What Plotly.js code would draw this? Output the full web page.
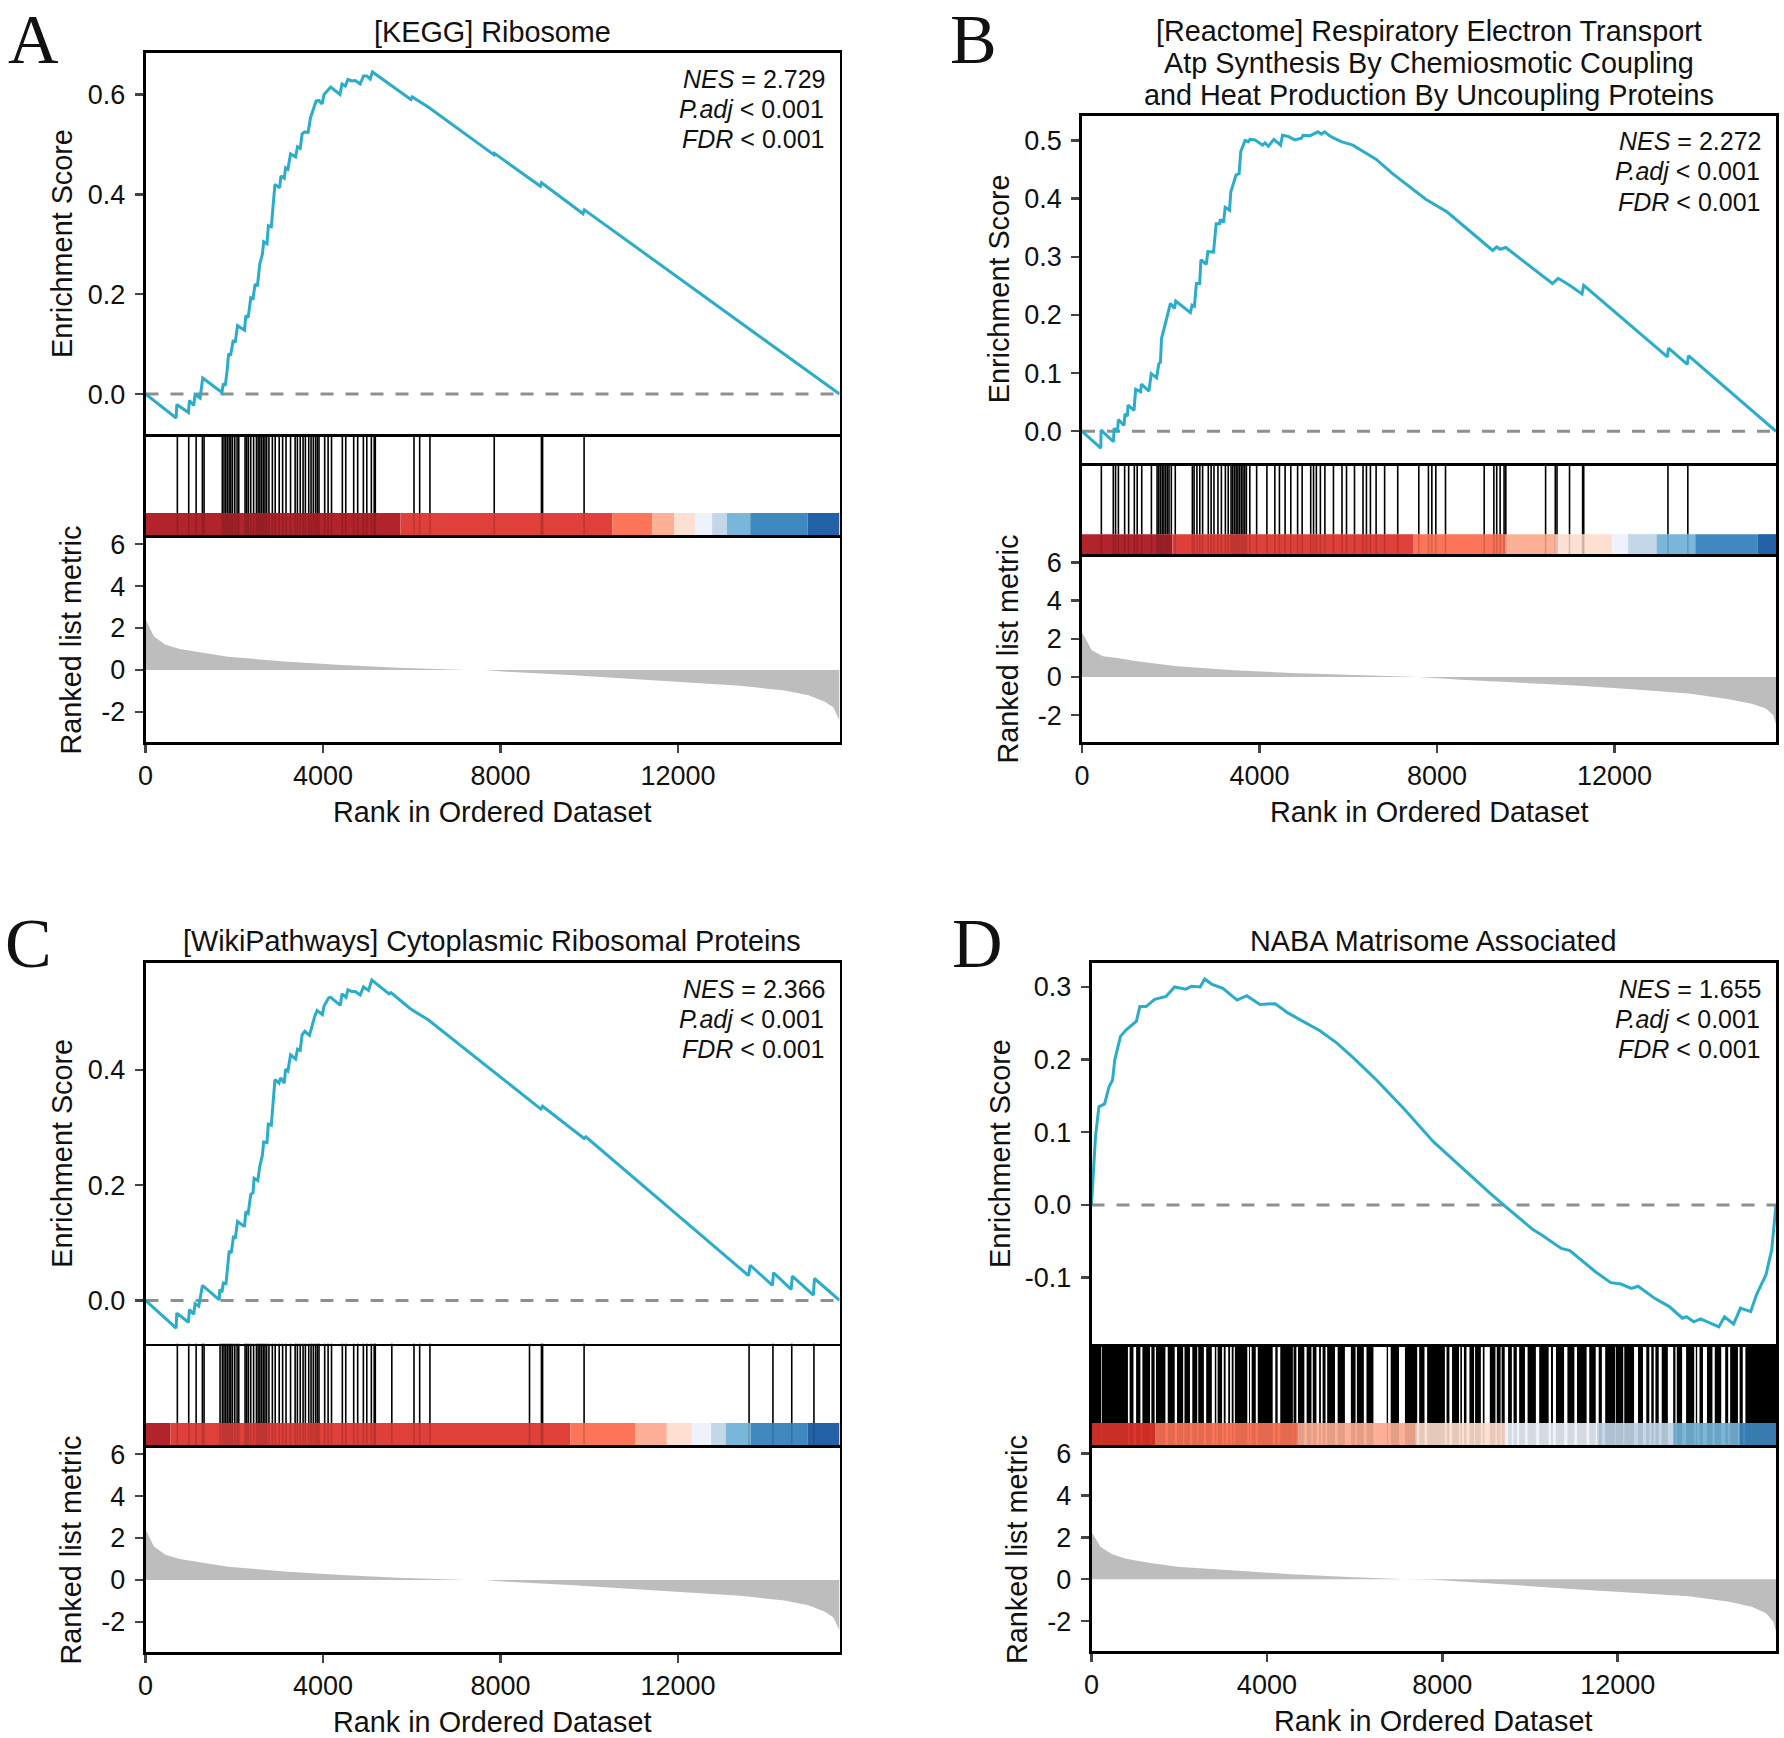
<!DOCTYPE html>
<html>
<head>
<meta charset="utf-8">
<script src="https://cdn.plot.ly/plotly-3.0.1.min.js"></script>
<style>body{margin:0;background:#fff}</style>
</head>
<body>
<div id="chart" style="width:1784px;height:1738px"></div>
<script>
// running enrichment score
var esRankA = [0,690,705,967,990,1087,1117,1230,1290,1723,1753,1798,1843,1873,1917,1977,2022,2074,2231,2261,2313,2373,2424,2469,2522,2574,2634,2664,2738,2768,2835,2917,3022,3052,3127,3157,3209,3269,3381,3426,3486,3530,3590,3665,3717,3844,3904,3979,4024,4129,4174,4383,4428,4503,4562,4652,4727,4838,4913,4988,5063,5114,5981,6011,6131,6370,7855,7865,8900,8925,9860,9890,15640];
var esValA = [0,-.048,-.021,-.037,-.013,-.023,-.001,-.008,.032,.003,.021,.017,.05,.081,.077,.108,.103,.137,.128,.157,.153,.193,.191,.22,.216,.26,.28,.305,.301,.337,.335,.42,.413,.437,.432,.453,.45,.481,.475,.495,.492,.521,.525,.524,.553,.587,.588,.581,.6,.612,.615,.6,.621,.617,.63,.627,.628,.621,.637,.637,.631,.645,.59,.595,.588,.575,.479,.482,.416,.423,.361,.369,0];

var esRankB = [0,424,430,708,723,798,820,947,968,1023,1037,1172,1209,1322,1337,1509,1560,1680,1732,1769,1791,1858,1903,1993,2085,2112,2442,2480,2533,2578,2652,2680,2800,2837,2964,3024,3100,3115,3190,3227,3324,3354,3473,3540,3578,3675,3750,3787,3899,4071,4124,4198,4325,4474,4519,4646,4795,4945,4982,5131,5318,5393,5468,5580,5655,5842,6103,6327,6625,6999,7746,8230,9000,9256,9346,9423,9551,10410,10602,10731,10987,11269,11307,13192,13218,13641,13666,15640];
var esValB = [0,-.029,.002,-.018,.005,-.001,.02,.01,.03,.026,.045,.036,.072,.068,.081,.069,.099,.092,.116,.119,.159,.18,.197,.22,.211,.224,.204,.217,.215,.254,.254,.295,.287,.309,.308,.357,.357,.364,.359,.385,.38,.412,.441,.443,.481,.5,.498,.502,.501,.492,.496,.49,.502,.492,.509,.507,.501,.504,.509,.508,.515,.511,.515,.508,.505,.498,.492,.482,.468,.443,.399,.377,.328,.311,.317,.313,.316,.266,.254,.263,.251,.236,.251,.128,.143,.115,.13,0];

var esRankC = [0,690,705,967,990,1087,1117,1200,1230,1283,1664,1672,1723,1753,1813,1850,1887,1932,1984,2022,2074,2231,2261,2313,2373,2424,2447,2530,2574,2634,2664,2738,2768,2835,2917,3007,3045,3127,3157,3209,3269,3381,3426,3486,3530,3590,3695,3814,3866,3986,4024,4129,4174,4391,4428,4518,4562,4652,4727,4838,4913,5026,5100,5489,5530,5955,6030,6370,8653,8910,8948,9885,9923,13589,13628,14128,14153,14551,14576,15051,15076,15640];
var esValC = [0,-.048,-.022,-.038,-.016,-.024,-.006,-.01,.003,.026,.001,.019,.014,.03,.029,.058,.086,.082,.112,.107,.137,.128,.154,.151,.184,.187,.212,.208,.232,.252,.275,.274,.306,.304,.383,.377,.386,.377,.401,.398,.426,.419,.436,.434,.461,.467,.46,.493,.503,.496,.511,.525,.526,.512,.532,.526,.539,.536,.536,.53,.544,.538,.556,.532,.534,.507,.503,.487,.348,.332,.337,.281,.284,.043,.061,.026,.048,.019,.042,.009,.038,0];

var esRankD = [0,39,91,169,298,402,480,532,661,791,1025,1102,1245,1440,1699,1894,2023,2153,2283,2477,2581,2737,2996,3320,3541,3839,4189,4488,4812,5201,5590,5979,6498,7146,7795,8443,9092,9416,9740,10065,10259,10713,10908,11491,11841,12075,12308,12464,12853,13177,13476,13567,13735,13890,14046,14306,14436,14643,14799,15032,15162,15382,15512,15610];
var esValD = [0,.039,.094,.135,.139,.163,.172,.2,.232,.241,.253,.273,.273,.283,.287,.3,.298,.297,.301,.3,.311,.304,.298,.282,.288,.276,.277,.264,.253,.24,.223,.202,.172,.131,.087,.051,.016,-.001,-.018,-.034,-.041,-.06,-.063,-.092,-.107,-.109,-.115,-.112,-.129,-.14,-.156,-.154,-.161,-.157,-.161,-.168,-.154,-.164,-.142,-.147,-.124,-.096,-.062,0];

// gene hit positions
var hitsA = [718,974,1141,1282,1320,1731,1769,1808,1846,1885,1923,1961,2013,2064,2102,2244,2282,2320,2372,2436,2500,2538,2577,2615,2654,2692,2731,2782,2859,2923,3013,3090,3167,3269,3372,3423,3487,3551,3603,3679,3731,3782,3833,3872,3910,4038,4115,4192,4436,4513,4692,4782,4910,4987,5090,5154,5179,6051,6179,6410,7859,8923,8949,9884];
var hitsB = [436,705,756,820,961,1051,1179,1244,1346,1564,1692,1731,1769,1808,1846,1885,1923,1961,2013,2102,2487,2526,2590,2654,2718,2846,2910,2974,3064,3141,3231,3295,3359,3397,3436,3474,3513,3551,3590,3628,3667,3705,3782,3936,4167,4346,4449,4577,4705,4859,4961,5154,5218,5282,5372,5474,5667,5859,5961,6141,6333,6410,6500,6628,6820,7115,7590,7807,7884,7974,8192,9064,9282,9346,9423,9512,9551,10448,10666,10705,10987,11282,11307,13205,13653];
var hitsC = [718,974,1141,1282,1320,1680,1731,1769,1808,1846,1885,1923,1961,2013,2064,2102,2244,2282,2320,2372,2436,2500,2538,2577,2615,2654,2692,2731,2782,2859,2923,3013,3090,3167,3269,3372,3423,3487,3551,3603,3679,3731,3782,3833,3872,3910,4038,4115,4192,4436,4513,4692,4782,4910,4987,5090,5154,5179,5551,6051,6179,6410,8654,8923,8949,9884,13602,14140,14564,15064];
// panel D is nearly solid black, so the white gaps are what can be read
var gapCenterD = [231,850,987,1138,1350,1455,1712,1924,2105,2272,2423,2589,2778,2861,2997,3088,3179,3255,3572,3633,3769,4162,4275,4600,4691,4880,5031,5160,5251,5356,5583,5847,6037,6241,6581,6793,7080,7450,7624,8078,8192,8396,8471,8585,8736,8902,9023,9227,9341,9462,9605,9726,9915,10172,10452,10558,10815,11042,11321,11533,11677,11949,12138,12418,12614,12743,12841,12970,13204,13332,13514,13763,13839,13990,14187,14406,14542,14761,14882];
var gapWidthD = [15,38,60,45,30,30,53,53,30,53,23,53,68,30,38,60,38,30,38,38,45,60,60,15,38,53,30,60,38,38,60,136,30,60,302,60,136,45,60,38,60,30,45,68,23,45,121,30,23,76,38,53,60,76,53,68,76,60,60,68,76,15,23,91,76,45,38,68,121,30,91,38,53,91,53,91,45,38,60];

// colour strip segments
var stripEdgesA = [0,5743,10525,11423,11910,12384,12769,13102,13628,14922,15640];
var stripEdgesB = [0,2038,7461,9538,10666,11948,12307,12948,13820,15230,15640];
var stripEdgesC = [0,563,9573,11032,11749,12312,12747,13080,13643,14923,15640];
var stripEdgesD = [0,1466,4721,7393,9442,11530,13268,14773,15610];
var stripColors = ['#b2242c','#e0403a','#fd7558','#fdb096','#fee0d2','#eef3fb','#c3d7e8','#7ab6d9','#4089c0','#2462a8'];
var stripColorsD = ['#e0342c','#fd7558','#fdb096','#fee0d2','#eef3fb','#c3d7e8','#7ab6d9','#3f8ac2'];

// ranked list metric
var metricRankA = [0,30,190,450,770,1340,1860,3140,4420,5700,6730,7240,7630,8270,9550,10830,12110,13400,14400,14940,15300,15500,15640];
var metricValA = [2.4,2.3,1.6,1.2,1.0,.8,.63,.41,.24,.11,.02,0,0,-.1,-.24,-.41,-.59,-.75,-.98,-1.2,-1.5,-1.78,-2.4];
var metricRankB = [0,38,218,474,756,1244,2141,3423,4705,5987,7013,7590,8550,9833,11115,12397,13679,14576,15090,15410,15576,15640];
var metricValB = [2.3,2.19,1.4,1.08,1.01,.82,.56,.35,.21,.1,.02,0,-.14,-.3,-.45,-.65,-.87,-1.17,-1.4,-1.66,-2.0,-2.45];
var metricRankC = [0,30,190,450,770,1340,1860,3140,4420,5700,6730,7240,7630,8270,9550,10830,12110,13400,14400,14940,15300,15500,15640];
var metricValC = [2.4,2.3,1.6,1.2,1.0,.8,.63,.41,.24,.11,.02,0,0,-.1,-.24,-.41,-.59,-.75,-.98,-1.2,-1.5,-1.78,-2.4];
var metricRankD = [0,39,208,467,791,1310,1958,3255,4552,5849,6887,7146,7795,8443,9740,11037,12334,13631,14539,15058,15382,15551,15610];
var metricValD = [2.2,2.14,1.54,1.19,.98,.79,.59,.4,.24,.11,.02,0,-.02,-.1,-.29,-.48,-.63,-.81,-1.08,-1.32,-1.63,-2.03,-2.5];

// tick labels
var rankTicks = [0,4000,8000,12000];
var rankLabels = ['0','4000','8000','12000'];
var metricTicks = [-2,0,2,4,6];
var metricLabels = ['-2','0','2','4','6'];
var esTicksA = [0,.2,.4,.6], esLabelsA = ['0.0','0.2','0.4','0.6'];
var esTicksB = [0,.1,.2,.3,.4,.5], esLabelsB = ['0.0','0.1','0.2','0.3','0.4','0.5'];
var esTicksC = [0,.2,.4], esLabelsC = ['0.0','0.2','0.4'];
var esTicksD = [-.1,0,.1,.2,.3], esLabelsD = ['-0.1','0.0','0.1','0.2','0.3'];

var W = 1784, H = 1738;
var FONT = 'Liberation Sans, Arial, sans-serif';
var TXT = '#111';
var SIZE = 28.8;
var TICKSIZE = 27;

var panels = [
  {letter:'A', lx:33, ly:39, title:['[KEGG] Ribosome'], tt:[32], nes:'2.729', x0:145.5, x1:839.5, top:53, es:434, strip:538, bot:742, xmax:15640, esx:83,
   esRange:[-.08,.683], metricRange:[-3.43,6.29], rank:esRankA, val:esValA, hits:hitsA, edges:stripEdgesA, colors:stripColors,
   metricX:metricRankA, metricY:metricValA, esTicks:esTicksA, esLabels:esLabelsA, cf:.24},
  {letter:'B', lx:973, ly:39, title:['[Reactome] Respiratory Electron Transport','Atp Synthesis By Chemiosmotic Coupling','and Heat Production By Uncoupling Proteins'], tt:[31,63,95], nes:'2.272', x0:1082, x1:1776, top:115.5, es:463, strip:557, bot:742, xmax:15640, esx:83,
   esRange:[-.0546,.543], metricRange:[-3.41,6.29], rank:esRankB, val:esValB, hits:hitsB, edges:stripEdgesB, colors:stripColors,
   metricX:metricRankB, metricY:metricValB, esTicks:esTicksB, esLabels:esLabelsB, cf:.243},
  {letter:'C', lx:28, ly:944, title:['[WikiPathways] Cytoplasmic Ribosomal Proteins'], tt:[941], nes:'2.366', x0:145.5, x1:839.5, top:963, es:1343.5, strip:1448, bot:1652, xmax:15640, esx:83,
   esRange:[-.0748,.5855], metricRange:[-3.43,6.29], rank:esRankC, val:esValC, hits:hitsC, edges:stripEdgesC, colors:stripColors,
   metricX:metricRankC, metricY:metricValC, esTicks:esTicksC, esLabels:esLabelsC, cf:.24},
  {letter:'D', lx:977, ly:944, title:['NABA Matrisome Associated'], tt:[941], nes:'1.655', x0:1091.5, x1:1776, top:963, es:1344, strip:1448, bot:1651, xmax:15610, esx:92,
   esRange:[-.1915,.333], metricRange:[-3.43,6.27], rank:esRankD, val:esValD, gapC:gapCenterD, gapW:gapWidthD, edges:stripEdgesD, colors:stripColorsD,
   metricX:metricRankD, metricY:metricValD, esTicks:esTicksD, esLabels:esLabelsD, cf:.24}
];

var data = [];
var layout = {
  width:W, height:H, margin:{l:0,r:0,t:0,b:0}, showlegend:false, barmode:'overlay',
  paper_bgcolor:'#fff', plot_bgcolor:'#fff', font:{family:FONT, size:SIZE, color:TXT},
  annotations:[]
};

function domX(p){ return [p.x0/W, p.x1/W]; }
function domY(a,b){ return [1-b/H, 1-a/H]; }

function baseAxis(){
  return {showline:true, mirror:true, linecolor:'#000', linewidth:2.8, showgrid:false, zeroline:false,
          ticks:'', showticklabels:false, fixedrange:true, tickfont:{family:FONT,size:TICKSIZE,color:TXT}};
}

function note(x,y,text,size,family,xa,ya,angle){
  layout.annotations.push({xref:'paper',yref:'paper',x:x/W,y:1-y/H,text:text,showarrow:false,
    xanchor:xa||'center',yanchor:ya||'middle',align:xa||'center',textangle:angle||0,
    font:{family:family||FONT,size:size,color:TXT}});
}

function addBar(xa,ya,base,len,y,thick,color){
  data.push({type:'bar',orientation:'h',xaxis:xa,yaxis:ya,base:base,x:len,y:base.map(function(){return y;}),
    width:thick,marker:{color:color,line:{width:0}},hoverinfo:'skip'});
}

function lines(hits,y0,y1){
  var xs=[],ys=[];
  hits.forEach(function(h){ xs.push(h,h,null); ys.push(y0,y1,null); });
  return {x:xs,y:ys};
}

panels.forEach(function(p,i){
  var n = i*3;
  var a1=n+1, a2=n+2, a3=n+3;
  var xa1='x'+a1, ya1='y'+a1, xa2='x'+a2, ya2='y'+a2, xa3='x'+a3, ya3='y'+a3;

  // enrichment score panel
  var xAxis1 = baseAxis(); xAxis1.domain=domX(p); xAxis1.range=[0,p.xmax]; xAxis1.anchor=ya1;
  var yAxis1 = baseAxis(); yAxis1.domain=domY(p.top,p.es); yAxis1.range=p.esRange; yAxis1.anchor=xa1;
  yAxis1.ticks='outside'; yAxis1.ticklen=8; yAxis1.tickwidth=2.4; yAxis1.showticklabels=true; yAxis1.ticklabelstandoff=4;
  yAxis1.tickmode='array'; yAxis1.tickvals=p.esTicks; yAxis1.ticktext=p.esLabels;
  layout['xaxis'+a1]=xAxis1; layout['yaxis'+a1]=yAxis1;
  note(p.x0-p.esx,(p.top+p.es)/2,'Enrichment Score',SIZE,FONT,'center','middle',-90);

  data.push({type:'scatter',mode:'lines',xaxis:xa1,yaxis:ya1,x:[0,p.xmax],y:[0,0],
    line:{color:'#8f8f8f',width:3,dash:'13px,12px'},hoverinfo:'skip'});
  data.push({type:'scatter',mode:'lines',xaxis:xa1,yaxis:ya1,x:p.rank,y:p.val,
    line:{color:'#2aaccb',width:3},hoverinfo:'skip'});

  // hits and colour strip share one frame, top and bottom lines come from the neighbours
  var xAxis2 = baseAxis(); xAxis2.domain=domX(p); xAxis2.range=[0,p.xmax]; xAxis2.anchor=ya2;
  xAxis2.showline=false; xAxis2.mirror=false;
  var yAxis2 = baseAxis(); yAxis2.domain=domY(p.es,p.strip); yAxis2.range=[0,1]; yAxis2.anchor=xa2;
  layout['xaxis'+a2]=xAxis2; layout['yaxis'+a2]=yAxis2;

  var segBase=[],segLen=[];
  for(var k=0;k<p.colors.length;k++){ segBase.push(p.edges[k]); segLen.push(p.edges[k+1]-p.edges[k]); }
  addBar(xa2,ya2,segBase,segLen,p.cf/2,p.cf,p.colors);

  if(p.hits){
    var top=lines(p.hits,p.cf,1), low=lines(p.hits,0,p.cf);
    data.push({type:'scatter',mode:'lines',xaxis:xa2,yaxis:ya2,x:top.x,y:top.y,line:{color:'#000',width:1.6},hoverinfo:'skip'});
    data.push({type:'scatter',mode:'lines',xaxis:xa2,yaxis:ya2,x:low.x,y:low.y,line:{color:'rgba(0,0,0,0.16)',width:1.6},hoverinfo:'skip'});
  } else {
    // black stretches between the white gaps
    var spanBase=[],spanLen=[],pos=0;
    p.gapC.forEach(function(c,j){
      var s=c-p.gapW[j]/2;
      spanBase.push(pos); spanLen.push(s-pos); pos=c+p.gapW[j]/2;
    });
    spanBase.push(pos); spanLen.push(p.xmax-pos);
    addBar(xa2,ya2,spanBase,spanLen,p.cf+(1-p.cf)/2,1-p.cf,'#000');
    addBar(xa2,ya2,spanBase,spanLen,p.cf/2,p.cf,'rgba(0,0,0,0.1)');
  }

  // ranked list metric
  var xAxis3 = baseAxis(); xAxis3.domain=domX(p); xAxis3.range=[0,p.xmax]; xAxis3.anchor=ya3;
  xAxis3.ticks='outside'; xAxis3.ticklen=8; xAxis3.tickwidth=2.4; xAxis3.showticklabels=true;
  xAxis3.tickmode='array'; xAxis3.tickvals=rankTicks; xAxis3.ticktext=rankLabels;
  var yAxis3 = baseAxis(); yAxis3.domain=domY(p.strip,p.bot); yAxis3.range=p.metricRange; yAxis3.anchor=xa3;
  yAxis3.ticks='outside'; yAxis3.ticklen=8; yAxis3.tickwidth=2.4; yAxis3.showticklabels=true; yAxis3.ticklabelstandoff=4;
  yAxis3.tickmode='array'; yAxis3.tickvals=metricTicks; yAxis3.ticktext=metricLabels;
  layout['xaxis'+a3]=xAxis3; layout['yaxis'+a3]=yAxis3;
  note(p.x0-75,(p.strip+p.bot)/2,'Ranked list metric',SIZE,FONT,'center','middle',-90);
  note((p.x0+p.x1)/2,p.bot+70,'Rank in Ordered Dataset',SIZE,FONT);

  data.push({type:'scatter',mode:'lines',xaxis:xa3,yaxis:ya3,x:p.metricX,y:p.metricY,fill:'tozeroy',
    fillcolor:'#bdbdbd',line:{width:0,color:'#bdbdbd'},hoverinfo:'skip'});

  // title, stats, panel letter
  p.title.forEach(function(t,j){ note((p.x0+p.x1)/2,p.tt[j],t,SIZE,FONT); });
  note(p.x1-13,p.top+26,'<i>NES</i> = '+p.nes,25,FONT,'right');
  note(p.x1-14,p.top+56,'<i>P.adj</i> &lt; 0.001',25,FONT,'right');
  note(p.x1-14,p.top+86,'<i>FDR</i> &lt; 0.001',25,FONT,'right');
  note(p.lx,p.ly,p.letter,70,'Liberation Serif, serif');
});

Plotly.newPlot('chart',data,layout,{displayModeBar:false,staticPlot:true});
</script>
</body>
</html>
